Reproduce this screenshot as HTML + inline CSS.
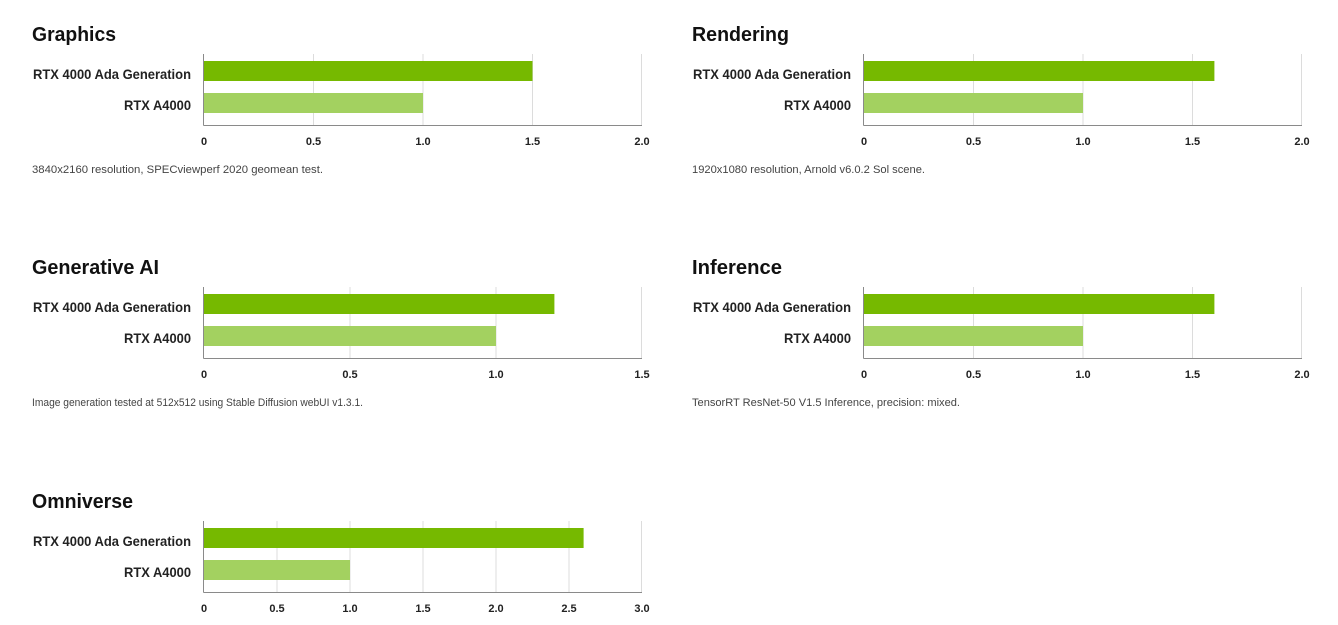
<!DOCTYPE html>
<html><head><meta charset="utf-8"><style>
html,body{margin:0;padding:0;background:#fff;}
svg{display:block;font-family:"Liberation Sans Narrow","Liberation Sans",sans-serif;}
.t{font-size:20px;font-weight:bold;fill:#111;}
.l{font-size:14px;font-weight:bold;fill:#222;}
.k{font-size:11px;font-weight:bold;fill:#222;}
.n{font-size:11px;fill:#444;}
.g{stroke:#dcdcdc;stroke-width:1;}
.a{stroke:#8a8a8a;stroke-width:1;}
</style></head><body>
<svg width="1338" height="625" viewBox="0 0 1338 625" xmlns="http://www.w3.org/2000/svg">
<g transform="translate(0,54)">
<text class="t" x="32" y="-13" textLength="84" lengthAdjust="spacingAndGlyphs">Graphics</text>
<line class="g" x1="313.5" y1="0" x2="313.5" y2="71"/><line class="g" x1="423" y1="0" x2="423" y2="71"/><line class="g" x1="532.5" y1="0" x2="532.5" y2="71"/><line class="g" x1="641.5" y1="0" x2="641.5" y2="71"/>
<rect x="204" y="7" width="328.5" height="20" fill="#76b900"/>
<rect x="204" y="39" width="219" height="20" fill="#a3d160"/>
<line class="a" x1="203.5" y1="0" x2="203.5" y2="71.5"/><line class="a" x1="203.5" y1="71.5" x2="642" y2="71.5"/>
<text class="l" x="191" y="25" text-anchor="end" textLength="158" lengthAdjust="spacingAndGlyphs">RTX 4000 Ada Generation</text>
<text class="l" x="191" y="56" text-anchor="end" textLength="67" lengthAdjust="spacingAndGlyphs">RTX A4000</text>
<text class="k" x="204" y="91" text-anchor="middle">0</text><text class="k" x="313.5" y="91" text-anchor="middle">0.5</text><text class="k" x="423" y="91" text-anchor="middle">1.0</text><text class="k" x="532.5" y="91" text-anchor="middle">1.5</text><text class="k" x="642" y="91" text-anchor="middle">2.0</text>
<text class="n" x="32" y="119" textLength="291" lengthAdjust="spacingAndGlyphs">3840x2160 resolution, SPECviewperf 2020 geomean test.</text>
</g>
<g transform="translate(660,54)">
<text class="t" x="32" y="-13" textLength="97" lengthAdjust="spacingAndGlyphs">Rendering</text>
<line class="g" x1="313.5" y1="0" x2="313.5" y2="71"/><line class="g" x1="423" y1="0" x2="423" y2="71"/><line class="g" x1="532.5" y1="0" x2="532.5" y2="71"/><line class="g" x1="641.5" y1="0" x2="641.5" y2="71"/>
<rect x="204" y="7" width="350.4" height="20" fill="#76b900"/>
<rect x="204" y="39" width="219" height="20" fill="#a3d160"/>
<line class="a" x1="203.5" y1="0" x2="203.5" y2="71.5"/><line class="a" x1="203.5" y1="71.5" x2="642" y2="71.5"/>
<text class="l" x="191" y="25" text-anchor="end" textLength="158" lengthAdjust="spacingAndGlyphs">RTX 4000 Ada Generation</text>
<text class="l" x="191" y="56" text-anchor="end" textLength="67" lengthAdjust="spacingAndGlyphs">RTX A4000</text>
<text class="k" x="204" y="91" text-anchor="middle">0</text><text class="k" x="313.5" y="91" text-anchor="middle">0.5</text><text class="k" x="423" y="91" text-anchor="middle">1.0</text><text class="k" x="532.5" y="91" text-anchor="middle">1.5</text><text class="k" x="642" y="91" text-anchor="middle">2.0</text>
<text class="n" x="32" y="119" textLength="233" lengthAdjust="spacingAndGlyphs">1920x1080 resolution, Arnold v6.0.2 Sol scene.</text>
</g>
<g transform="translate(0,287)">
<text class="t" x="32" y="-13" textLength="127" lengthAdjust="spacingAndGlyphs">Generative AI</text>
<line class="g" x1="350" y1="0" x2="350" y2="71"/><line class="g" x1="496" y1="0" x2="496" y2="71"/><line class="g" x1="641.5" y1="0" x2="641.5" y2="71"/>
<rect x="204" y="7" width="350.4" height="20" fill="#76b900"/>
<rect x="204" y="39" width="292" height="20" fill="#a3d160"/>
<line class="a" x1="203.5" y1="0" x2="203.5" y2="71.5"/><line class="a" x1="203.5" y1="71.5" x2="642" y2="71.5"/>
<text class="l" x="191" y="25" text-anchor="end" textLength="158" lengthAdjust="spacingAndGlyphs">RTX 4000 Ada Generation</text>
<text class="l" x="191" y="56" text-anchor="end" textLength="67" lengthAdjust="spacingAndGlyphs">RTX A4000</text>
<text class="k" x="204" y="91" text-anchor="middle">0</text><text class="k" x="350" y="91" text-anchor="middle">0.5</text><text class="k" x="496" y="91" text-anchor="middle">1.0</text><text class="k" x="642" y="91" text-anchor="middle">1.5</text>
<text class="n" x="32" y="119" textLength="331" lengthAdjust="spacingAndGlyphs">Image generation tested at 512x512 using Stable Diffusion webUI v1.3.1.</text>
</g>
<g transform="translate(660,287)">
<text class="t" x="32" y="-13" textLength="90" lengthAdjust="spacingAndGlyphs">Inference</text>
<line class="g" x1="313.5" y1="0" x2="313.5" y2="71"/><line class="g" x1="423" y1="0" x2="423" y2="71"/><line class="g" x1="532.5" y1="0" x2="532.5" y2="71"/><line class="g" x1="641.5" y1="0" x2="641.5" y2="71"/>
<rect x="204" y="7" width="350.4" height="20" fill="#76b900"/>
<rect x="204" y="39" width="219" height="20" fill="#a3d160"/>
<line class="a" x1="203.5" y1="0" x2="203.5" y2="71.5"/><line class="a" x1="203.5" y1="71.5" x2="642" y2="71.5"/>
<text class="l" x="191" y="25" text-anchor="end" textLength="158" lengthAdjust="spacingAndGlyphs">RTX 4000 Ada Generation</text>
<text class="l" x="191" y="56" text-anchor="end" textLength="67" lengthAdjust="spacingAndGlyphs">RTX A4000</text>
<text class="k" x="204" y="91" text-anchor="middle">0</text><text class="k" x="313.5" y="91" text-anchor="middle">0.5</text><text class="k" x="423" y="91" text-anchor="middle">1.0</text><text class="k" x="532.5" y="91" text-anchor="middle">1.5</text><text class="k" x="642" y="91" text-anchor="middle">2.0</text>
<text class="n" x="32" y="119" textLength="268" lengthAdjust="spacingAndGlyphs">TensorRT ResNet-50 V1.5 Inference, precision: mixed.</text>
</g>
<g transform="translate(0,521)">
<text class="t" x="32" y="-13" textLength="101" lengthAdjust="spacingAndGlyphs">Omniverse</text>
<line class="g" x1="277" y1="0" x2="277" y2="71"/><line class="g" x1="350" y1="0" x2="350" y2="71"/><line class="g" x1="423" y1="0" x2="423" y2="71"/><line class="g" x1="496" y1="0" x2="496" y2="71"/><line class="g" x1="569" y1="0" x2="569" y2="71"/><line class="g" x1="641.5" y1="0" x2="641.5" y2="71"/>
<rect x="204" y="7" width="379.6" height="20" fill="#76b900"/>
<rect x="204" y="39" width="146" height="20" fill="#a3d160"/>
<line class="a" x1="203.5" y1="0" x2="203.5" y2="71.5"/><line class="a" x1="203.5" y1="71.5" x2="642" y2="71.5"/>
<text class="l" x="191" y="25" text-anchor="end" textLength="158" lengthAdjust="spacingAndGlyphs">RTX 4000 Ada Generation</text>
<text class="l" x="191" y="56" text-anchor="end" textLength="67" lengthAdjust="spacingAndGlyphs">RTX A4000</text>
<text class="k" x="204" y="91" text-anchor="middle">0</text><text class="k" x="277" y="91" text-anchor="middle">0.5</text><text class="k" x="350" y="91" text-anchor="middle">1.0</text><text class="k" x="423" y="91" text-anchor="middle">1.5</text><text class="k" x="496" y="91" text-anchor="middle">2.0</text><text class="k" x="569" y="91" text-anchor="middle">2.5</text><text class="k" x="642" y="91" text-anchor="middle">3.0</text>
</g>
</svg>
</body></html>
